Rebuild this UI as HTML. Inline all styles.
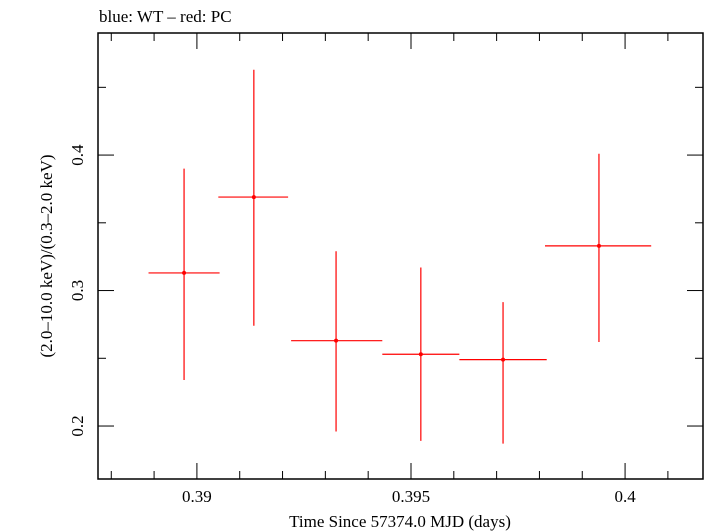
<!DOCTYPE html>
<html><head><meta charset="utf-8"><style>
body{margin:0;background:#fff}
svg{display:block;font-family:"Liberation Serif",serif}
</style></head><body>
<svg id="chart" width="705" height="532">
<text x="99" y="22" font-size="17">blue: WT – red: PC</text>
<rect x="98" y="33" width="605" height="446" fill="none" stroke="#000" stroke-width="1.5"/>
<g id="axes"></g>
<g id="series"></g>
<text x="400" y="527" font-size="17" text-anchor="middle">Time Since 57374.0 MJD (days)</text>
<text transform="translate(52,256) rotate(-90)" font-size="17" text-anchor="middle">(2.0–10.0 keV)/(0.3–2.0 keV)</text>
</svg>
<script>
const times=[0.3897,0.39133,0.39325,0.39523,0.39715,0.39939];
const timeLo=[0.38887,0.3905,0.3922,0.39433,0.39613,0.39813];
const timeHi=[0.39053,0.39213,0.39433,0.39613,0.39817,0.40061];
const ratios=[0.313,0.369,0.263,0.253,0.249,0.333];
const ratioHi=[0.390,0.463,0.329,0.317,0.2915,0.401];
const ratioLo=[0.234,0.274,0.196,0.189,0.187,0.262];
const xTicks=[0.39,0.395,0.4];
const xTickLabels=["0.39","0.395","0.4"];
const yTicks=[0.2,0.3,0.4];
const yTickLabels=["0.2","0.3","0.4"];
const NS="http://www.w3.org/2000/svg";
const L=98,R=703,T=33,B=479;
const xMin=0.38769,xMax=0.40182,yMin=0.1609,yMax=0.4901;
const sx=v=>L+(v-xMin)/(xMax-xMin)*(R-L);
const sy=v=>B-(v-yMin)/(yMax-yMin)*(B-T);
function mk(tag,at,parent){const e=document.createElementNS(NS,tag);for(const k in at)e.setAttribute(k,at[k]);parent.appendChild(e);return e;}
const ax=document.getElementById('axes');
for(let i=0;i<=14;i++){const v=0.388+i*0.001;if(v>xMax)break;const x=sx(v);const major=xTicks.some(t=>Math.abs(t-v)<1e-6);const len=major?16:8;
const t1=mk('line',{x1:x,x2:x,y1:B,y2:B-len,stroke:'#000'},ax);


const t2=mk('line',{x1:x,x2:x,y1:T,y2:T+len,stroke:'#000'},ax);

}
xTicks.forEach((v,i)=>{const t=mk('text',{x:sx(v),y:502,'font-size':17,'text-anchor':'middle'},ax);t.textContent=xTickLabels[i];

});
for(let i=0;i<=7;i++){const v=0.15+i*0.05;if(v<yMin||v>yMax)continue;const y=sy(v);const major=yTicks.some(t=>Math.abs(t-v)<1e-6);const len=major?16:8;
const t1=mk('line',{x1:L,x2:L+len,y1:y,y2:y,stroke:'#000'},ax);


const t2=mk('line',{x1:R,x2:R-len,y1:y,y2:y,stroke:'#000'},ax);

}
yTicks.forEach((v,i)=>{const t=mk('text',{transform:`translate(83,${sy(v)}) rotate(-90)`,'font-size':17,'text-anchor':'middle'},ax);t.textContent=yTickLabels[i];

});
const sg=document.getElementById('series');
times.forEach((t,i)=>{
const h=mk('line',{x1:sx(timeLo[i]),x2:sx(timeHi[i]),y1:sy(ratios[i]),y2:sy(ratios[i]),stroke:'#ff0000','stroke-width':1.2},sg);


const v=mk('line',{x1:sx(t),x2:sx(t),y1:sy(ratioLo[i]),y2:sy(ratioHi[i]),stroke:'#ff0000','stroke-width':1.2},sg);


const p=mk('circle',{cx:sx(t),cy:sy(ratios[i]),r:2,fill:'#ff0000'},sg);


});
</script>
</body></html>
